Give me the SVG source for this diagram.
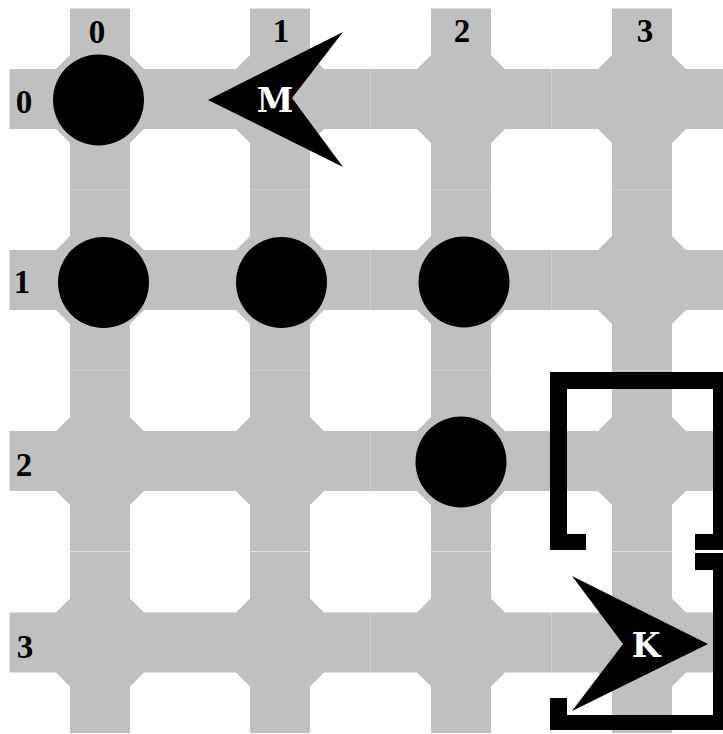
<svg xmlns="http://www.w3.org/2000/svg" xmlns:xlink="http://www.w3.org/1999/xlink" width="723" height="734" viewBox="0 0 723 734">
<style>
.tile{fill:#c0c0c0}
.stone{fill:#000}
.wall{fill:#000}
.lbl{font-family:"Liberation Serif","Times New Roman",serif;font-weight:bold;font-size:33px;fill:#000;text-anchor:middle}
.piece{fill:#000}
.ptxt{font-family:"DejaVu Serif",serif;font-weight:bold;font-size:33px;fill:#fff;text-anchor:middle}
</style>
<defs>
<path id="tile" d="M-30,-90.5 H30 V-44 L44,-30 H90.5 V30 H44 L30,44 V90.5 H-30 V44 L-44,30 H-90.5 V-30 H-44 L-30,-44 Z"/>
</defs>
<g id="board">
<use id="tile-0-0" class="tile" xlink:href="#tile" x="100" y="99"/>
<use id="tile-0-1" class="tile" xlink:href="#tile" x="280" y="99"/>
<use id="tile-0-2" class="tile" xlink:href="#tile" x="461" y="99"/>
<use id="tile-0-3" class="tile" xlink:href="#tile" x="642" y="99"/>
<use id="tile-1-0" class="tile" xlink:href="#tile" x="100" y="280"/>
<use id="tile-1-1" class="tile" xlink:href="#tile" x="280" y="280"/>
<use id="tile-1-2" class="tile" xlink:href="#tile" x="461" y="280"/>
<use id="tile-1-3" class="tile" xlink:href="#tile" x="642" y="280"/>
<use id="tile-2-0" class="tile" xlink:href="#tile" x="100" y="461"/>
<use id="tile-2-1" class="tile" xlink:href="#tile" x="280" y="461"/>
<use id="tile-2-2" class="tile" xlink:href="#tile" x="461" y="461"/>
<use id="tile-2-3" class="tile" xlink:href="#tile" x="642" y="461"/>
<use id="tile-3-0" class="tile" xlink:href="#tile" x="100" y="642.5"/>
<use id="tile-3-1" class="tile" xlink:href="#tile" x="280" y="642.5"/>
<use id="tile-3-2" class="tile" xlink:href="#tile" x="461" y="642.5"/>
<use id="tile-3-3" class="tile" xlink:href="#tile" x="642" y="642.5"/>
</g>
<g id="labels">
<text class="lbl" x="97" y="43">0</text>
<text class="lbl" x="281" y="42">1</text>
<text class="lbl" x="462" y="42">2</text>
<text class="lbl" x="645" y="42">3</text>
<text class="lbl" x="24" y="113">0</text>
<text class="lbl" x="22" y="293">1</text>
<text class="lbl" x="24" y="476">2</text>
<text class="lbl" x="25" y="658">3</text>
</g>
<g id="stones">
<circle id="stone-0-0" class="stone" cx="98.5" cy="100" r="45.5"/>
<circle id="stone-1-0" class="stone" cx="103.5" cy="282.5" r="45.5"/>
<circle id="stone-1-1" class="stone" cx="281.5" cy="282.5" r="45.5"/>
<circle id="stone-1-2" class="stone" cx="464" cy="282" r="45.5"/>
<circle id="stone-2-2" class="stone" cx="461" cy="462" r="45.5"/>
</g>
<g id="walls">
<path id="wall-upper" class="wall" d="M550,372 H730 V550 H695 V534 H713 V389 H567 V534 H586 V550 H550 Z"/>
<path id="wall-lower" class="wall" d="M695,553 H730 V730 H550 V698 H567 V715 H713 V570 H695 Z"/>
</g>
<g id="piece-M">
<polygon class="piece" points="208,100 343,32 292,98 343,167"/>
<text class="ptxt" x="275" y="112">M</text>
</g>
<g id="piece-K">
<polygon class="piece" points="708,644 572,576 623,644 572,711"/>
<text class="ptxt" x="646" y="657">K</text>
</g>
</svg>
